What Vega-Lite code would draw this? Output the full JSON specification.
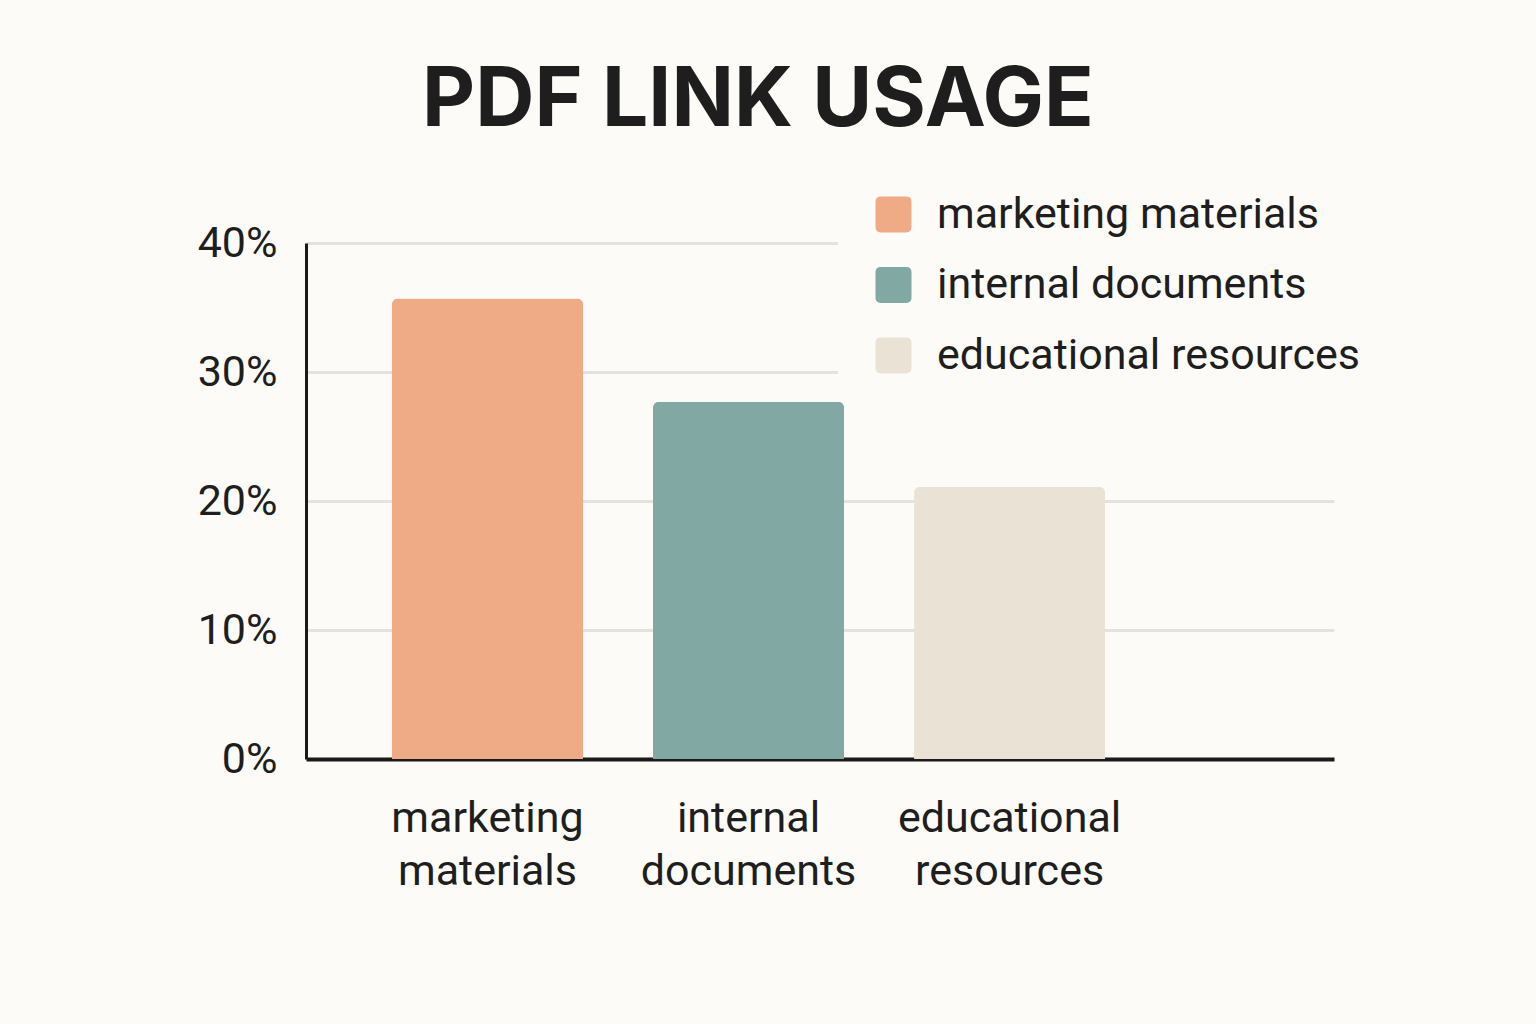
{
  "$schema": "https://vega.github.io/schema/vega-lite/v6.json",
  "width": 1028,
  "height": 516,
  "autosize": "none",
  "padding": {"left": 306, "top": 243, "right": 202, "bottom": 265},
  "background": "#FCFBF7",
  "title": {
    "text": "PDF LINK USAGE",
    "font": "Inter",
    "fontSize": 82,
    "fontWeight": "bold",
    "color": "#1E1E1E",
    "anchor": "middle",
    "frame": "group",
    "dx": -62,
    "offset": 32
  },
  "data": {
    "values": [
      {"category": "marketing materials", "share": 0.357},
      {"category": "internal documents", "share": 0.277},
      {"category": "educational resources", "share": 0.211}
    ]
  },
  "mark": {"type": "bar", "cornerRadiusTopLeft": 6, "cornerRadiusTopRight": 6},
  "encoding": {
    "x": {
      "field": "category",
      "type": "nominal",
      "sort": null,
      "scale": {"paddingInner": 0.268, "paddingOuter": 0.603, "align": 0.273},
      "axis": {
        "title": null,
        "labelAngle": 0,
        "labelExpr": "split(datum.label, ' ')",
        "labelFont": "Roboto",
        "labelFontSize": 43,
        "labelLineHeight": 53,
        "labelPadding": 38,
        "labelColor": "#1E1E1E",
        "labelLimit": 400,
        "ticks": false,
        "domainColor": "#1A1A1A",
        "domainWidth": 4,
        "grid": false
      }
    },
    "y": {
      "field": "share",
      "type": "quantitative",
      "scale": {"domain": [0, 0.4]},
      "axis": {
        "title": null,
        "values": [0, 0.1, 0.2, 0.3, 0.4],
        "format": ".0%",
        "labelFont": "Roboto",
        "labelFontSize": 43,
        "labelPadding": 29,
        "labelColor": "#1E1E1E",
        "ticks": false,
        "domainColor": "#1A1A1A",
        "domainWidth": 3,
        "grid": true,
        "gridColor": "#E4E2DD",
        "gridWidth": 3
      }
    },
    "color": {
      "field": "category",
      "type": "nominal",
      "sort": null,
      "scale": {
        "domain": ["marketing materials", "internal documents", "educational resources"],
        "range": ["#EFAA86", "#82A8A4", "#EAE2D5"]
      },
      "legend": {
        "title": null,
        "orient": "none",
        "legendX": 532,
        "legendY": -68,
        "fillColor": "#FCFBF7",
        "padding": 18,
        "symbolOffset": 16,
        "symbolType": "M-0.7,-1L0.7,-1Q1,-1 1,-0.7L1,0.7Q1,1 0.7,1L-0.7,1Q-1,1 -1,0.7L-1,-0.7Q-1,-1 -0.7,-1Z",
        "symbolSize": 1296,
        "symbolStrokeWidth": 0,
        "symbolOpacity": 1,
        "labelFont": "Roboto",
        "labelFontSize": 43,
        "labelColor": "#1E1E1E",
        "labelOffset": 22,
        "labelLimit": 600,
        "rowPadding": 26.5
      }
    }
  },
  "config": {"view": {"stroke": null}}
}
